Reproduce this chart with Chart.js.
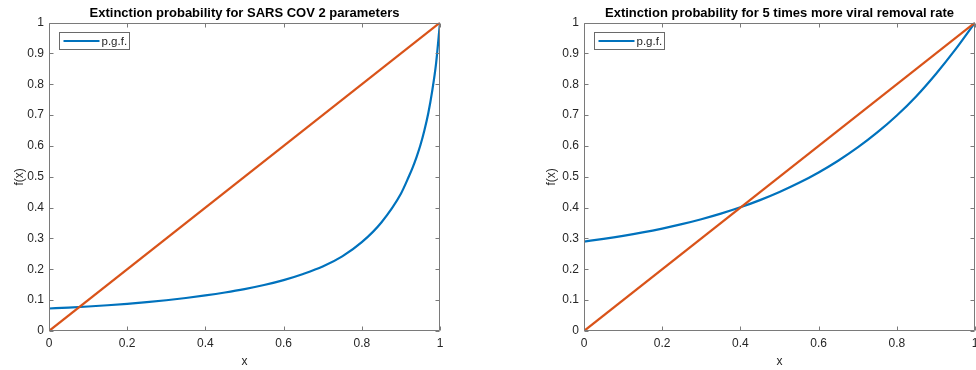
<!DOCTYPE html>
<html><head><meta charset="utf-8">
<script src="https://cdn.jsdelivr.net/npm/chart.js@4/dist/chart.umd.min.js"></script>
<style>
html,body{margin:0;padding:0;background:#fff;overflow:hidden;width:976px;height:370px;}
#w1{position:absolute;left:0;top:0;width:490px;height:370px;}
#w2{position:absolute;left:490px;top:0;width:580px;height:370px;}
</style></head><body>
<div id="w1"><canvas id="c1" width="490" height="370"></canvas></div>
<div id="w2"><canvas id="c2" width="580" height="370"></canvas></div>
<script>
// ---- data ----
const sarsX = [0,0.05,0.1,0.15,0.2,0.25,0.3,0.35,0.4,0.45,0.5,0.55,0.6,0.65,0.7,0.75,0.8,0.85,0.9,0.92,0.93,0.94,0.95,0.96,0.97,0.98,0.99,1];
const sarsPgf = [0.073,0.076,0.0795,0.0835,0.088,0.0935,0.0998,0.107,0.1153,0.1248,0.1358,0.149,0.165,0.185,0.209,0.242,0.288,0.352,0.445,0.500,0.530,0.564,0.603,0.650,0.706,0.778,0.868,1.0];
const removalX = [0,0.05,0.1,0.15,0.2,0.25,0.3,0.35,0.4,0.45,0.5,0.55,0.6,0.65,0.7,0.75,0.8,0.85,0.9,0.95,1];
const removalPgf = [0.290,0.2987,0.3085,0.3196,0.3322,0.3464,0.3625,0.3806,0.4012,0.4244,0.4507,0.4804,0.5141,0.5521,0.5951,0.6438,0.6988,0.7615,0.8335,0.913,1.0];
const diagX = [0,1];
const diagY = [0,1];
const xTickValues = [0,0.2,0.4,0.6,0.8,1];
const xTickLabels = ['0','0.2','0.4','0.6','0.8','1'];
const yTickValues = [0,0.1,0.2,0.3,0.4,0.5,0.6,0.7,0.8,0.9,1];
const yTickLabels = ['0','0.1','0.2','0.3','0.4','0.5','0.6','0.7','0.8','0.9','1'];
const titles = ['Extinction probability for SARS COV 2 parameters','Extinction probability for 5 times more viral removal rate'];
const legendLabel = 'p.g.f.';
const xTitle = 'x';
const yTitle = 'f(x)';

const BLUE = '#0072BD', ORANGE = '#D95319', TXT = '#262626', AXIS = '#7a7a7a';
const FONT = "'Liberation Sans', Arial, Helvetica, sans-serif";

const framePlugin = {
  id: 'frame',
  afterDraw(chart) {
    const {ctx, chartArea: a, scales: {x, y}} = chart;
    ctx.save();
    ctx.strokeStyle = AXIS;
    ctx.lineWidth = 1;
    const L = Math.round(a.left) + 0.5, R = Math.round(a.right) - 0.5;
    const T = Math.round(a.top) + 0.5, B = Math.round(a.bottom) - 0.5;
    ctx.beginPath();
    ctx.rect(L, T, R - L, B - T);
    xTickValues.forEach(v => {
      const px = Math.round(x.getPixelForValue(v)) + 0.5;
      ctx.moveTo(px, B); ctx.lineTo(px, B - 4);
      ctx.moveTo(px, T); ctx.lineTo(px, T + 4);
    });
    yTickValues.forEach(v => {
      const py = Math.round(y.getPixelForValue(v)) + 0.5;
      ctx.moveTo(L, py); ctx.lineTo(L + 4, py);
      ctx.moveTo(R, py); ctx.lineTo(R - 4, py);
    });
    ctx.stroke();

    // legend (inside axes, top-left, MATLAB style)
    const ds = chart.data.datasets[0];
    const bx = L + 10, by = T + 9;
    const bw = 70, bh = 17;
    ctx.fillStyle = '#fff';
    ctx.fillRect(bx, by, bw, bh);
    ctx.strokeStyle = '#6a6a6a';
    ctx.strokeRect(bx, by, bw, bh);
    const cy = by + bh / 2;
    ctx.strokeStyle = ds.borderColor;
    ctx.lineWidth = ds.borderWidth;
    ctx.beginPath();
    ctx.moveTo(bx + 4, cy); ctx.lineTo(bx + 40, cy);
    ctx.stroke();
    ctx.fillStyle = TXT;
    ctx.font = "11.5px " + FONT;
    ctx.textBaseline = 'middle';
    ctx.textAlign = 'left';
    ctx.fillText(ds.label, bx + 42, cy + 0.5);
    ctx.restore();
  }
};

function makeChart(id, xs, ys, title, padLeft, yWidth, padRight) {
  const pts = xs.map((v, i) => ({x: v, y: ys[i]}));
  const diag = diagX.map((v, i) => ({x: v, y: diagY[i]}));
  return new Chart(document.getElementById(id), {
    type: 'line',
    data: {
      datasets: [
        {label: legendLabel, data: pts, borderColor: BLUE, backgroundColor: BLUE, borderWidth: 2.2,
         pointRadius: 0, cubicInterpolationMode: 'monotone', fill: false, order: 1},
        {label: 'y = x', data: diag, borderColor: ORANGE, backgroundColor: ORANGE, borderWidth: 2.2,
         pointRadius: 0, fill: false, order: 0}
      ]
    },
    options: {
      responsive: false,
      animation: false,
      devicePixelRatio: 1,
      layout: {padding: {left: padLeft, right: padRight, top: 0, bottom: 0}},
      plugins: {
        tooltip: {enabled: false},
        legend: {display: false},
        title: {display: true, text: title, fullSize: false, color: '#000',
                font: {family: FONT, size: 13, weight: 'bold', lineHeight: 1.2}, padding: {top: 6, bottom: 1}}
      },
      scales: {
        x: {
          type: 'linear', min: 0, max: 1,
          afterBuildTicks: s => { s.ticks = xTickValues.map(v => ({value: v})); },
          afterFit: s => { s.height = 39; },
          grid: {display: false, drawTicks: false},
          border: {display: false},
          ticks: {color: TXT, padding: 5, font: {family: FONT, size: 12}, maxRotation: 0,
                  callback: (v) => xTickLabels[xTickValues.findIndex(t => Math.abs(t - v) < 1e-9)]},
          title: {display: true, text: xTitle, color: TXT, font: {family: FONT, size: 12}, padding: {top: 0, bottom: 1}}
        },
        y: {
          type: 'linear', min: 0, max: 1,
          afterBuildTicks: s => { s.ticks = yTickValues.map(v => ({value: v})); },
          afterFit: s => { s.width = yWidth; },
          grid: {display: false, drawTicks: false},
          border: {display: false},
          ticks: {color: TXT, padding: 5, font: {family: FONT, size: 12},
                  callback: (v) => yTickLabels[yTickValues.findIndex(t => Math.abs(t - v) < 1e-9)]},
          title: {display: true, text: yTitle, color: TXT, font: {family: FONT, size: 12}, padding: {top: 12, bottom: 0}}
        }
      }
    },
    plugins: [framePlugin]
  });
}

makeChart('c1', sarsX, sarsPgf, titles[0], 0, 49, 50);
makeChart('c2', removalX, removalPgf, titles[1], 42, 52, 95);
</script>
</body></html>
